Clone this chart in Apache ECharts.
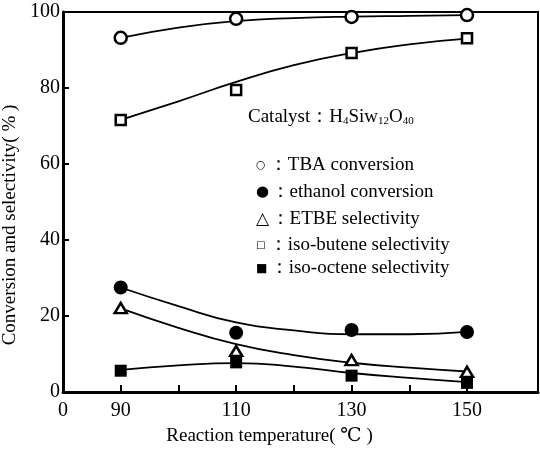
<!DOCTYPE html>
<html>
<head>
<meta charset="utf-8">
<script src="https://cdn.jsdelivr.net/npm/echarts@6/dist/echarts.min.js"></script>
<style>
  html, body { margin: 0; padding: 0; background: #fff; }
  #chart { width: 540px; height: 450px; }
</style>
</head>
<body>
<div id="chart"></div>
<script>
// measured points
const temps = [90, 110, 130, 150];
const tbaConversion = [93.2, 98.2, 98.7, 99.2];
const ethanolConversion = [27.5, 15.6, 16.3, 15.8];
const etbeSelectivity = [22.1, 10.8, 8.4, 5.3];
const isoButeneSelectivity = [71.6, 79.5, 89.2, 93.1];
const isoOcteneSelectivity = [5.6, 7.8, 4.3, 2.4];

// hand-drawn trend curves
const fitTemps = [90, 100, 110, 120, 130, 140, 150];
const tbaFit = [93.2, 95.9, 97.6, 98.4, 98.8, 99.0, 99.2];
const ethanolFit = [27.5, 22.6, 18.3, 16.2, 15.2, 15.2, 15.8];
const etbeFit = [22.0, 16.9, 12.6, 9.7, 7.7, 6.4, 5.4];
const isoButeneFit = [71.6, 76.5, 81.6, 86.0, 89.2, 91.5, 93.0];
const isoOcteneFit = [5.8, 7.0, 7.6, 6.7, 5.0, 3.7, 2.6];

const xTicks = [90, 100, 110, 120, 130, 140, 150];
const xLabels = [80, 90, 110, 130, 150];
const legendRows = [
  ["○", "TBA conversion"],
  ["●", "ethanol conversion"],
  ["△", "ETBE selectivity"],
  ["□", "iso-butene selectivity"],
  ["■", "iso-octene selectivity"],
];

const serif = "Liberation Serif, DejaVu Serif, serif";
const chart = echarts.init(document.getElementById("chart"));

const pairs = (xs, ys) => xs.map((x, i) => [x, ys[i]]);

function fitLine(name, values) {
  return {
    name: name + " fit",
    type: "line",
    data: pairs(fitTemps, values),
    smooth: 0.5,
    showSymbol: false,
    lineStyle: { color: "#000", width: 1.8 },
    z: 2,
    silent: true,
  };
}

function points(name, values, symbol, size, filled) {
  return {
    name,
    type: "scatter",
    data: pairs(temps, values),
    symbol,
    symbolSize: size,
    itemStyle: filled
      ? { color: "#000", opacity: 1 }
      : { color: "#fff", borderColor: "#000", borderWidth: 2.5, opacity: 1 },
    z: 5,
  };
}

const symbolSizes = { "○": 11, "●": 15, "△": 17, "□": 10, "■": 12 };

chart.setOption({
  animation: false,
  backgroundColor: "#fff",
  grid: {
    left: 63, right: 2, top: 12, bottom: 58,
    outerBoundsMode: "none",
    show: true, borderColor: "#000", borderWidth: 2,
  },
  xAxis: {
    type: "value",
    min: 80,
    max: 162.3,
    name: "Reaction temperature( ℃ )",
    nameLocation: "middle",
    nameGap: 35,
    nameTextStyle: { fontFamily: serif, fontSize: 19, color: "#000", padding: [0, 62, 0, 0] },
    axisLine: { lineStyle: { color: "#000", width: 3 } },
    axisTick: { inside: true, length: 7, customValues: xTicks, lineStyle: { color: "#000", width: 2 } },
    axisLabel: {
      customValues: xLabels,
      color: "#000", fontFamily: serif, fontSize: 20, margin: 9,
      formatter: (v) => (v === 80 ? "0" : String(v)),
    },
    splitLine: { show: false },
  },
  yAxis: {
    type: "value",
    min: 0,
    max: 100,
    interval: 20,
    name: "Conversion and selectivity( % )",
    nameLocation: "middle",
    nameGap: 36,
    nameTextStyle: { fontFamily: serif, fontSize: 19, color: "#000", padding: [0, 46, 0, 0] },
    axisLine: { lineStyle: { color: "#000", width: 3 } },
    axisTick: { inside: true, length: 6, lineStyle: { color: "#000", width: 2 } },
    axisLabel: { color: "#000", fontFamily: serif, fontSize: 20, margin: 3 },
    splitLine: { show: false },
  },
  graphic: [
    {
      type: "text",
      left: 248,
      top: 108,
      style: {
        text: "Catalyst：H{s|4}Siw{s|12}O{s|40}",
        font: "19px " + serif,
        fill: "#000",
        rich: { s: { fontSize: 11, fontFamily: serif, padding: [8, 0, 0, 0] } },
      },
    },
    ...legendRows.map(([sym, label], i) => ({
      type: "text",
      left: 256,
      top: [156, 183, 210, 236, 259][i],
      style: {
        text: "{m|" + sym + "}{t|：" + label + "}",
        fill: "#000",
        rich: {
          m: { fontSize: symbolSizes[sym], fontFamily: "DejaVu Sans", width: 16, align: "center" },
          t: { fontSize: 19, fontFamily: serif },
        },
      },
    })),
  ],
  series: [
    fitLine("TBA conversion", tbaFit),
    fitLine("ethanol conversion", ethanolFit),
    fitLine("ETBE selectivity", etbeFit),
    fitLine("iso-butene selectivity", isoButeneFit),
    fitLine("iso-octene selectivity", isoOcteneFit),
    points("TBA conversion", tbaConversion, "circle", 12, false),
    points("ethanol conversion", ethanolConversion, "circle", 14, true),
    points("ETBE selectivity", etbeSelectivity, "triangle", [12, 10], false),
    points("iso-butene selectivity", isoButeneSelectivity, "rect", 10, false),
    points("iso-octene selectivity", isoOcteneSelectivity, "rect", 12, true),
  ],
});
</script>
</body>
</html>
